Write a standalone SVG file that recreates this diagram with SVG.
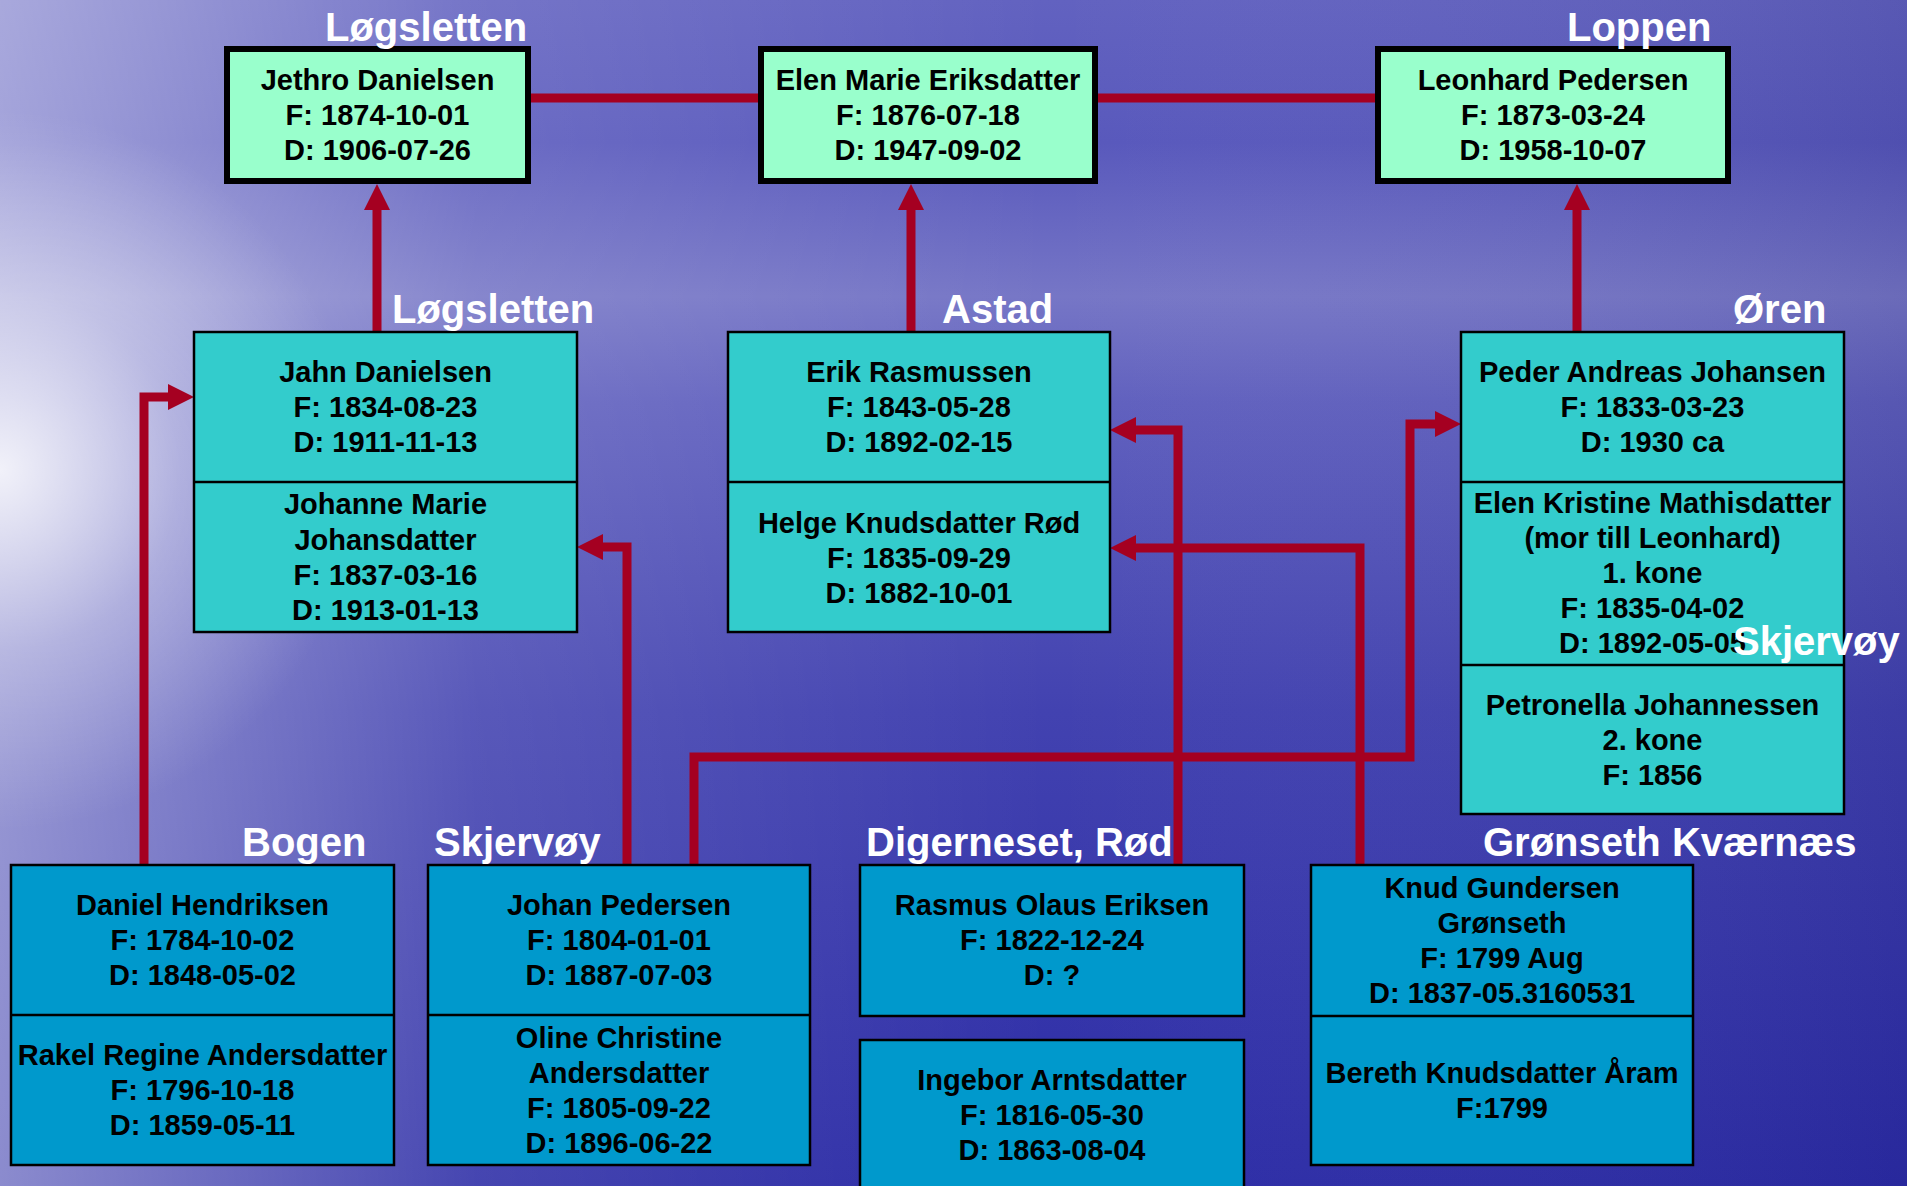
<svg xmlns="http://www.w3.org/2000/svg" width="1907" height="1186" viewBox="0 0 1907 1186">
<defs>
<linearGradient id="bgv" x1="0" y1="0" x2="0" y2="1">
<stop offset="0" stop-color="#6262c0"/>
<stop offset="0.12" stop-color="#5858bc"/>
<stop offset="0.25" stop-color="#7676c6"/>
<stop offset="0.34" stop-color="#6060be"/>
<stop offset="0.6" stop-color="#4242b0"/>
<stop offset="1" stop-color="#2c2ca6"/>
</linearGradient>
<linearGradient id="bgh" x1="0" y1="0" x2="1" y2="0">
<stop offset="0" stop-color="#ffffff" stop-opacity="0.45"/>
<stop offset="0.25" stop-color="#ffffff" stop-opacity="0.12"/>
<stop offset="0.55" stop-color="#ffffff" stop-opacity="0"/>
<stop offset="1" stop-color="#000040" stop-opacity="0.1"/>
</linearGradient>
<radialGradient id="glow" cx="0" cy="470" r="360" gradientUnits="userSpaceOnUse">
<stop offset="0" stop-color="#ffffff" stop-opacity="0.85"/>
<stop offset="0.5" stop-color="#ffffff" stop-opacity="0.3"/>
<stop offset="1" stop-color="#ffffff" stop-opacity="0"/>
</radialGradient>
<marker id="ah" markerUnits="userSpaceOnUse" markerWidth="26" markerHeight="26" refX="4" refY="13" orient="auto">
<path d="M0,0 L26,13 L0,26 Z" fill="#a50021"/>
</marker>
<style>
.conn{fill:none;stroke:#a50021;stroke-width:9;stroke-linejoin:miter}
.top{fill:#99ffcc;stroke:#000;stroke-width:6}
.mid{fill:#33cccc;stroke:#000;stroke-width:2.5}
.bot{fill:#0099cc;stroke:#000;stroke-width:2.5}
.div{stroke:#000;stroke-width:2.5}
.t{font-family:"Liberation Sans",Arial,sans-serif;font-weight:bold;font-size:29px;fill:#000;text-anchor:middle}
.lbl{font-family:"Liberation Sans",Arial,sans-serif;font-weight:bold;font-size:40px;fill:#fff}
</style>
</defs>
<g id="background">
<rect x="0" y="0" width="1907" height="1186" fill="url(#bgv)"/>
<rect x="0" y="0" width="1907" height="1186" fill="url(#bgh)"/>
<rect x="0" y="0" width="1907" height="1186" fill="url(#glow)"/>
</g>
<g id="connectors">
<path class="conn" d="M531,98 H758"/>
<path class="conn" d="M1098,98 H1375"/>
<path class="conn" d="M377,332 V206" marker-end="url(#ah)"/>
<path class="conn" d="M911,332 V206" marker-end="url(#ah)"/>
<path class="conn" d="M1577,332 V206" marker-end="url(#ah)"/>
<path class="conn" d="M144,865 V397 H172" marker-end="url(#ah)"/>
<path class="conn" d="M627,865 V547 H599" marker-end="url(#ah)"/>
<path class="conn" d="M694,865 V757 H1410 V424 H1439" marker-end="url(#ah)"/>
<path class="conn" d="M1178,865 V430 H1132" marker-end="url(#ah)"/>
<path class="conn" d="M1360,865 V548 H1132" marker-end="url(#ah)"/>
</g>
<g id="jethro">
<rect class="top" x="227" y="49" width="301" height="132"/>
<text class="t" x="377.5" y="90">Jethro Danielsen</text>
<text class="t" x="377.5" y="125">F: 1874-10-01</text>
<text class="t" x="377.5" y="160">D: 1906-07-26</text>
</g>
<g id="elen">
<rect class="top" x="761" y="49" width="334" height="132"/>
<text class="t" x="928" y="90">Elen Marie Eriksdatter</text>
<text class="t" x="928" y="125">F: 1876-07-18</text>
<text class="t" x="928" y="160">D: 1947-09-02</text>
</g>
<g id="leonhard">
<rect class="top" x="1378" y="49" width="350" height="132"/>
<text class="t" x="1553" y="90">Leonhard Pedersen</text>
<text class="t" x="1553" y="125">F: 1873-03-24</text>
<text class="t" x="1553" y="160">D: 1958-10-07</text>
</g>
<g id="jahn-johanne">
<rect class="mid" x="194" y="332" width="383" height="300"/>
<line class="div" x1="194" y1="482" x2="577" y2="482"/>
<text class="t" x="385.5" y="382">Jahn Danielsen</text>
<text class="t" x="385.5" y="417">F: 1834-08-23</text>
<text class="t" x="385.5" y="452">D: 1911-11-13</text>
<text class="t" x="385.5" y="514">Johanne Marie</text>
<text class="t" x="385.5" y="550">Johansdatter</text>
<text class="t" x="385.5" y="585">F: 1837-03-16</text>
<text class="t" x="385.5" y="620">D: 1913-01-13</text>
</g>
<g id="erik-helge">
<rect class="mid" x="728" y="332" width="382" height="300"/>
<line class="div" x1="728" y1="482" x2="1110" y2="482"/>
<text class="t" x="919" y="382">Erik Rasmussen</text>
<text class="t" x="919" y="417">F: 1843-05-28</text>
<text class="t" x="919" y="452">D: 1892-02-15</text>
<text class="t" x="919" y="533">Helge Knudsdatter Rød</text>
<text class="t" x="919" y="568">F: 1835-09-29</text>
<text class="t" x="919" y="603">D: 1882-10-01</text>
</g>
<g id="peder-elen-petronella">
<rect class="mid" x="1461" y="332" width="383" height="482"/>
<line class="div" x1="1461" y1="482" x2="1844" y2="482"/>
<line class="div" x1="1461" y1="665" x2="1844" y2="665"/>
<text class="t" x="1652.5" y="382">Peder Andreas Johansen</text>
<text class="t" x="1652.5" y="417">F: 1833-03-23</text>
<text class="t" x="1652.5" y="452">D: 1930 ca</text>
<text class="t" x="1652.5" y="513">Elen Kristine Mathisdatter</text>
<text class="t" x="1652.5" y="548">(mor till Leonhard)</text>
<text class="t" x="1652.5" y="583">1. kone</text>
<text class="t" x="1652.5" y="618">F: 1835-04-02</text>
<text class="t" x="1652.5" y="653">D: 1892-05-05</text>
<text class="t" x="1652.5" y="715">Petronella Johannessen</text>
<text class="t" x="1652.5" y="750">2. kone</text>
<text class="t" x="1652.5" y="785">F: 1856</text>
</g>
<g id="daniel-rakel">
<rect class="bot" x="11" y="865" width="383" height="300"/>
<line class="div" x1="11" y1="1015" x2="394" y2="1015"/>
<text class="t" x="202.5" y="915">Daniel Hendriksen</text>
<text class="t" x="202.5" y="950">F: 1784-10-02</text>
<text class="t" x="202.5" y="985">D: 1848-05-02</text>
<text class="t" x="202.5" y="1065">Rakel Regine Andersdatter</text>
<text class="t" x="202.5" y="1100">F: 1796-10-18</text>
<text class="t" x="202.5" y="1135">D: 1859-05-11</text>
</g>
<g id="johan-oline">
<rect class="bot" x="428" y="865" width="382" height="300"/>
<line class="div" x1="428" y1="1015" x2="810" y2="1015"/>
<text class="t" x="619" y="915">Johan Pedersen</text>
<text class="t" x="619" y="950">F: 1804-01-01</text>
<text class="t" x="619" y="985">D: 1887-07-03</text>
<text class="t" x="619" y="1048">Oline Christine</text>
<text class="t" x="619" y="1083">Andersdatter</text>
<text class="t" x="619" y="1118">F: 1805-09-22</text>
<text class="t" x="619" y="1153">D: 1896-06-22</text>
</g>
<g id="rasmus">
<rect class="bot" x="860" y="865" width="384" height="151"/>
<text class="t" x="1052" y="915">Rasmus Olaus Eriksen</text>
<text class="t" x="1052" y="950">F: 1822-12-24</text>
<text class="t" x="1052" y="985">D: ?</text>
</g>
<g id="ingebor">
<rect class="bot" x="860" y="1040" width="384" height="160"/>
<text class="t" x="1052" y="1090">Ingebor Arntsdatter</text>
<text class="t" x="1052" y="1125">F: 1816-05-30</text>
<text class="t" x="1052" y="1160">D: 1863-08-04</text>
</g>
<g id="knud-bereth">
<rect class="bot" x="1311" y="865" width="382" height="300"/>
<line class="div" x1="1311" y1="1016" x2="1693" y2="1016"/>
<text class="t" x="1502" y="898">Knud Gundersen</text>
<text class="t" x="1502" y="933">Grønseth</text>
<text class="t" x="1502" y="968">F: 1799 Aug</text>
<text class="t" x="1502" y="1003">D: 1837-05.3160531</text>
<text class="t" x="1502" y="1083">Bereth Knudsdatter Åram</text>
<text class="t" x="1502" y="1118">F:1799</text>
</g>
<g id="place-labels">
<text class="lbl" x="325" y="41">Løgsletten</text>
<text class="lbl" x="1567" y="41">Loppen</text>
<text class="lbl" x="392" y="323">Løgsletten</text>
<text class="lbl" x="942" y="323">Astad</text>
<text class="lbl" x="1733" y="323">Øren</text>
<text class="lbl" x="1733" y="655">Skjervøy</text>
<text class="lbl" x="242" y="856">Bogen</text>
<text class="lbl" x="434" y="856">Skjervøy</text>
<text class="lbl" x="866" y="856">Digerneset, Rød</text>
<text class="lbl" x="1483" y="856">Grønseth Kværnæs</text>
</g>
</svg>
